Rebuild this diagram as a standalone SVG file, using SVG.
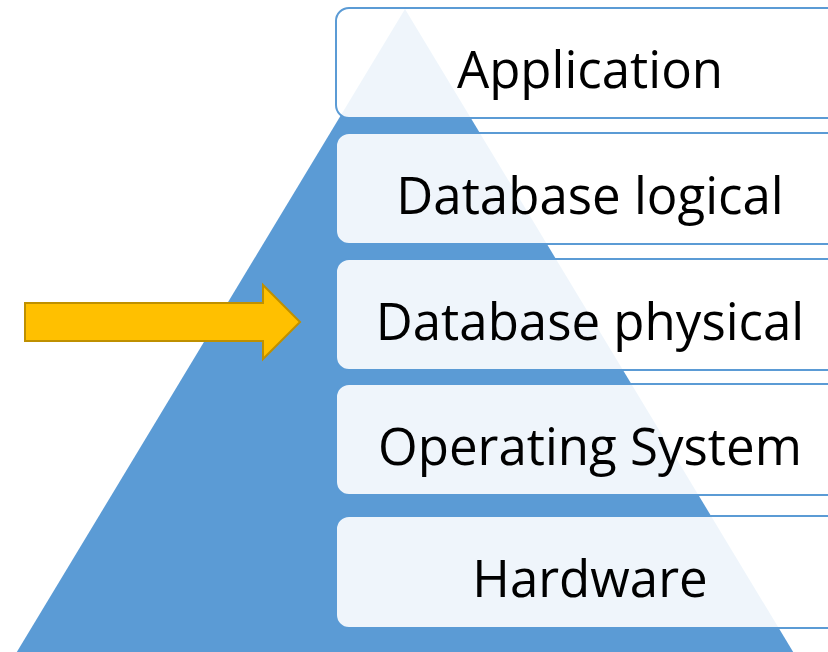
<svg xmlns="http://www.w3.org/2000/svg" width="828" height="652" viewBox="0 0 828 652">
  <style>
    .layer { fill: #ffffff; fill-opacity: 0.9; stroke: #5b9bd5; stroke-width: 2; }
    .label { font-family: "Open Sans", "Liberation Sans", sans-serif; font-size: 51px; fill: #000000; text-anchor: middle; }
  </style>
  <rect width="828" height="652" fill="#ffffff"/>

  <!-- pyramid backdrop -->
  <g id="pyramid">
    <polygon points="405,9 12,660 798,660" fill="#5b9bd5"/>
  </g>

  <!-- stack layers, top to bottom -->
  <g id="application">
    <rect class="layer" x="336" y="8" width="508" height="110" rx="13"/>
    <text class="label" x="590" y="88">Application</text>
  </g>
  <g id="database-logical">
    <rect class="layer" x="336" y="133" width="508" height="111" rx="13"/>
    <text class="label" x="590" y="213.5">Database logical</text>
  </g>
  <g id="database-physical">
    <rect class="layer" x="336" y="259" width="508" height="111" rx="13"/>
    <text class="label" x="590" y="339.5">Database physical</text>
  </g>
  <g id="operating-system">
    <rect class="layer" x="336" y="384" width="508" height="111" rx="13"/>
    <text class="label" x="590" y="464.5">Operating System</text>
  </g>
  <g id="hardware">
    <rect class="layer" x="336" y="516" width="508" height="112" rx="13"/>
    <text class="label" x="590" y="597">Hardware</text>
  </g>

  <!-- pointer to the physical layer -->
  <g id="connectors">
    <polygon points="25,303 263,303 263,285 300,322 263,359 263,341 25,341" fill="#ffc000" stroke="#bf9000" stroke-width="2" stroke-linejoin="miter"/>
  </g>
</svg>
